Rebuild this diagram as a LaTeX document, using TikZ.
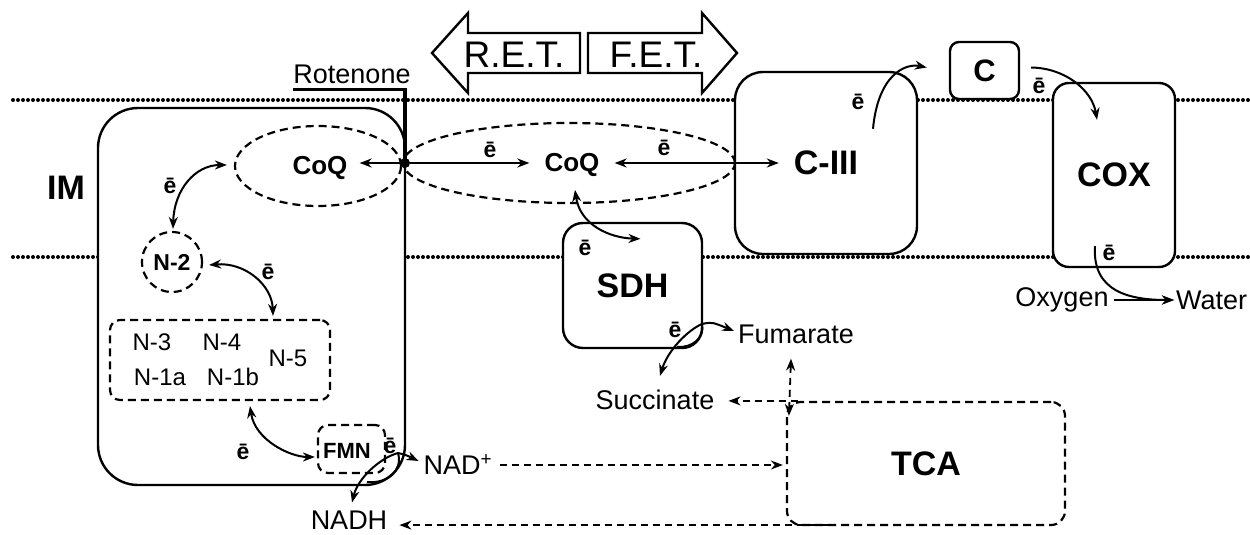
\documentclass[tikz,border=0pt]{standalone}
\usepackage{fontspec}
\setmainfont{Liberation Sans}
\usetikzlibrary{arrows.meta,calc,shapes.geometric}
\newcommand{\pxfont}[1]{\fontsize{#1}{#1}\selectfont}
\begin{document}
\begin{tikzpicture}[x=1pt,y=-1pt,
  membrane/.style={line width=4pt, dash pattern=on 0pt off 5pt, line cap=round},
  cbox/.style={draw, line width=2.4pt, fill=white, inner sep=0pt},
  dbox/.style={draw, line width=2.2pt, dash pattern=on 8pt off 5pt, inner sep=0pt},
  arr/.style={-{Stealth[length=12pt,width=9pt]}, line width=2pt},
  darr/.style={{Stealth[length=12pt,width=9pt]}-{Stealth[length=12pt,width=9pt]}, line width=2pt},
  dasharr/.style={-{Stealth[length=12pt,width=9pt]}, line width=1.8pt, dash pattern=on 7pt off 5pt},
  ddasharr/.style={{Stealth[length=12pt,width=9pt]}-{Stealth[length=12pt,width=9pt]}, line width=1.8pt, dash pattern=on 7pt off 5pt},
  lbl/.style={font=\pxfont{27}, inner sep=0pt},
  nlbl/.style={font=\pxfont{24}, inner sep=0pt},
  boldm/.style={font=\pxfont{26}\bfseries, inner sep=0pt},
  bigb/.style={font=\pxfont{34}\bfseries, inner sep=0pt},
  elec/.style={font=\pxfont{23}\bfseries, inner sep=0pt}
]
\useasboundingbox (0,0) rectangle (1250,535);
\fill[white] (0,0) rectangle (1250,535);

% membranes
\draw[membrane] (13,100) -- (1250,100);
\draw[membrane] (13,257) -- (1250,257);

% big arrows
\draw[line width=2.4pt] (432,53) -- (468,13) -- (468,33) -- (580,33) -- (580,73) -- (468,73) -- (468,93) -- cycle;
\draw[line width=2.4pt] (737,53) -- (702,13) -- (702,33) -- (588,33) -- (588,73) -- (702,73) -- (702,93) -- cycle;
\node[font=\pxfont{37}, inner sep=0pt] (ret) at (514,55) {R.E.T.};
\node[font=\pxfont{37}, inner sep=0pt] (fet) at (656,55) {F.E.T.};

% boxes
\node[cbox, rounded corners=40pt, minimum width=307pt, minimum height=377pt] (im) at (251.5,296.5) {};
\node[cbox, rounded corners=28pt, minimum width=182pt, minimum height=182pt, font=\pxfont{34}\bfseries] (ciii) at (826,163) {C-III};
\node[cbox, rounded corners=16pt, minimum width=122pt, minimum height=184pt, font=\pxfont{34}\bfseries] (cox) at (1114,175) {COX};
\node[cbox, rounded corners=9pt, minimum width=69pt, minimum height=57pt, font=\pxfont{31}\bfseries] (cbx) at (984.5,70.5) {C};
\node[cbox, rounded corners=20pt, minimum width=139pt, minimum height=125pt, font=\pxfont{34}\bfseries] (sdh) at (632.5,285.5) {SDH};
\node[dbox, rounded corners=14pt, minimum width=278pt, minimum height=123pt, font=\pxfont{34}\bfseries] (tca) at (926,463.5) {TCA};

% inside complex I
\node[dbox, ellipse, minimum width=166pt, minimum height=80pt] (coq1e) at (318,166) {};
\node[dbox, ellipse, minimum width=332pt, minimum height=80pt] (coq2e) at (569,163) {};
\node[boldm] (coq1) at (320,168) {CoQ};
\node[boldm] (coq2) at (572,165) {CoQ};
\node[dbox, circle, minimum size=60pt, font=\pxfont{23}\bfseries] (n2) at (172,262) {N-2};
\node[dbox, rounded corners=10pt, minimum width=220pt, minimum height=80pt] (nbox) at (220,360) {};
\node[nlbl] (n3) at (152,342) {N-3};
\node[nlbl] (n4) at (222,342) {N-4};
\node[nlbl] (n5) at (288,358) {N-5};
\node[nlbl] (n1a) at (160,377) {N-1a};
\node[nlbl] (n1b) at (233,377) {N-1b};
\node[dbox, rounded corners=10pt, minimum width=67pt, minimum height=48pt] (fmn) at (351.5,449) {};
\node[font=\pxfont{22}\bfseries, inner sep=0pt] (fmnt) at (347,451) {FMN};

\node[bigb] (imlab) at (66,188) {IM};

% rotenone
\node[lbl] (rot) at (352,74) {Rotenone};
\node[circle, fill, inner sep=0pt, minimum size=10pt] (dot) at (405,163) {};
\draw[line width=3.5pt] ($(rot.south west)+(0,6)$) -| (dot.center);

% text labels
\node[lbl] (nadp) at (458,465) {NAD\textsuperscript{+}};
\node[lbl] (nadh) at (349,520) {NADH};
\node[lbl] (fum) at (796,334) {Fumarate};
\node[lbl] (succ) at (655,400) {Succinate};
\node[lbl] (oxy) at (1062,300) {Oxygen};
\node[lbl, anchor=west] (wat) at (1176,300) {Water};

% electron labels
\node[elec] at (170,186) {ē};
\node[elec] at (268,272) {ē};
\node[elec] at (243,452) {ē};
\node[elec] at (390,446) {ē};
\node[elec] at (490,150) {ē};
\node[elec] at (664,148) {ē};
\node[elec] at (585,248) {ē};
\node[elec] at (675,330) {ē};
\node[elec] at (858,102) {ē};
\node[elec] at (1039,86) {ē};
\node[elec] at (1109,253) {ē};

% CoQ arrows
\draw[arr] (dot) -- ($(coq1.east|-dot)+(12,0)$);
\draw[arr] (dot) -- ($(coq2.west|-dot)+(-15,0)$);
\draw[darr] ($(coq2.east|-dot)+(15,0)$) -- ($(ciii.west|-dot)+(45,0)$);

% complex I internal arrows
\draw[darr] ($(coq1e.west)+(-7,-1)$) .. controls (195,165) and (174,190) .. ($(n2.north)+(1,-2)$);
\draw[darr] ($(n2.east)+(6,3)$) .. controls (245,262) and (272,285) .. ($(nbox.north)+(53,-3)$);
\draw[darr] ($(nbox.south)+(30,5)$) .. controls (255,440) and (290,457) .. ($(fmn.west)+(-2,8)$);

% FMN -> NAD+ / NADH
\coordinate (fl) at (398,453);
\draw[arr] (fl) .. controls (406,455) .. ($(nadp.west)+(-5,-4)$);
\draw[arr] (fl) .. controls (380,458) and (358,478) .. ($(nadh.north)+(3,-8)$);
\draw[line width=2pt] (fl) .. controls (403,470) and (388,484) .. (367,482);

% SDH arrows
\draw[darr] ($(coq2.south)+(3,13)$) .. controls (580,225) and (610,238) .. ($(sdh.north)+(8,17)$);
\coordinate (sl) at (702,324);
\draw[arr] (sl) .. controls (712,322) .. ($(fum.west)+(-4,-3)$);
\draw[arr] (sl) .. controls (688,330) and (668,350) .. ($(succ.north)+(5,-14)$);
\draw[line width=2pt] (sl) .. controls (705,338) and (692,348) .. (677,347);

% C-III -> C -> COX -> water
\draw[arr] ($(ciii.north)+(47,58)$) .. controls (878,75) and (905,63) .. ($(cbx.west)+(-22,-3)$);
\draw[arr] ($(cbx.east)+(11,-3)$) .. controls (1065,68) and (1092,90) .. ($(cox.north)+(-17,38)$);
\draw[arr] ($(cox.south)+(-19,-22)$) .. controls (1092,292) and (1130,300) .. ($(wat.west)+(-2,0)$);
\draw[arr] ($(oxy.east)+(5,0)$) -- ($(wat.west)+(-2,0)$);

% TCA dashed arrows
\draw[dasharr] ($(nadp.east)+(8,0)$) -- ($(tca.west|-nadp)+(-3,0)$);
\draw[dasharr] ($(tca.south west)+(42,-1)$) -- ($(nadh.east|-tca.south)+(12,-1)$);
\draw[dasharr] ($(tca.north west)+(12,0)$) -- ($(succ.east|-tca.north)+(14,0)$);
\draw[ddasharr] ($(fum.south west)+(53,15)$) -- ($(tca.north west)+(3,15)$);
\end{tikzpicture}
\end{document}
